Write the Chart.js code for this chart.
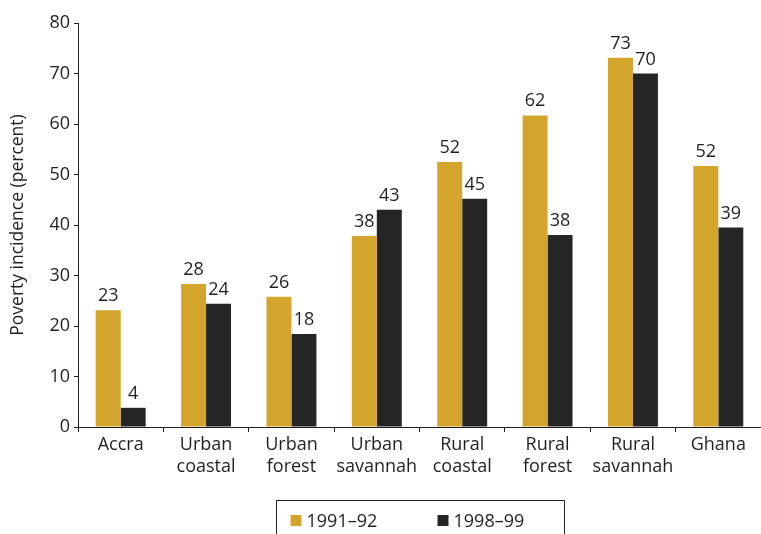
<!DOCTYPE html>
<html><head><meta charset="utf-8">
<script src="https://cdn.jsdelivr.net/npm/chart.js@4/dist/chart.umd.min.js"></script>
<style>html,body{margin:0;padding:0;background:#fff}#wrap{width:761px;height:534px}</style>
</head><body><div id="wrap"><canvas id="c" width="761" height="534"></canvas></div>
<script>
const categories = [["Accra"],["Urban","coastal"],["Urban","forest"],["Urban","savannah"],["Rural","coastal"],["Rural","forest"],["Rural","savannah"],["Ghana"]];
const series1991 = [23.1, 28.3, 25.8, 37.8, 52.5, 61.7, 73.1, 51.7];
const series1998 = [3.8, 24.4, 18.4, 43.0, 45.2, 38.0, 70.0, 39.5];
const labels1991 = ["23","28","26","38","52","62","73","52"];
const labels1998 = ["4","24","18","43","45","38","70","39"];
const seriesNames = ["1991–92", "1998–99"];
const yTicks = [0,10,20,30,40,50,60,70,80];

const FONT = "'Open Sans', sans-serif";
const FS = 18;
const INK = "#231F20";
const COLORS = ['#D4A52C', '#262526'];

const valueLabels = {
  id: 'valueLabels',
  afterDatasetsDraw(chart) {
    const ctx = chart.ctx;
    ctx.save();
    ctx.font = FS + "px " + FONT;
    ctx.fillStyle = INK;
    ctx.textAlign = 'center';
    ctx.textBaseline = 'alphabetic';
    const lbls = [labels1991, labels1998];
    chart.data.datasets.forEach((ds, i) => {
      chart.getDatasetMeta(i).data.forEach((bar, j) => {
        ctx.fillText(lbls[i][j], bar.x, bar.y - 9);
      });
    });
    ctx.restore();
  }
};

const boxedLegend = {
  id: 'boxedLegend',
  afterDraw(chart) {
    const ctx = chart.ctx;
    const ca = chart.chartArea;
    const cx = (ca.left + ca.right) / 2;
    const boxW = 288;
    const l = Math.round(cx - boxW / 2) + 0.5;
    const r = l + boxW;
    const t = 500.5;
    ctx.save();
    ctx.strokeStyle = INK;
    ctx.lineWidth = 1;
    ctx.beginPath();
    ctx.moveTo(l, chart.height + 5);
    ctx.lineTo(l, t);
    ctx.lineTo(r, t);
    ctx.lineTo(r, chart.height + 5);
    ctx.stroke();
    ctx.font = FS + "px " + FONT;
    ctx.textBaseline = 'alphabetic';
    ctx.textAlign = 'left';
    const itemX = [l + 14, l + 161];
    chart.data.datasets.forEach((ds, i) => {
      ctx.fillStyle = ds.backgroundColor;
      ctx.fillRect(itemX[i], 515, 11, 11);
      ctx.fillStyle = INK;
      ctx.fillText(ds.label, itemX[i] + 16, 526.5);
    });
    ctx.restore();
  }
};

new Chart(document.getElementById('c'), {
  type: 'bar',
  data: {
    labels: categories,
    datasets: [
      { label: seriesNames[0], data: series1991, backgroundColor: COLORS[0], borderWidth: 0 },
      { label: seriesNames[1], data: series1998, backgroundColor: COLORS[1], borderWidth: 0 }
    ]
  },
  options: {
    responsive: false,
    animation: false,
    devicePixelRatio: 1,
    layout: { padding: { top: 23, right: 0, left: 0, bottom: 57 } },
    categoryPercentage: 0.585,
    barPercentage: 1.0,
    plugins: {
      tooltip: { enabled: false },
      legend: { display: false }
    },
    scales: {
      x: {
        afterFit: s => { s.height = 50; },
        grid: { display: true, drawOnChartArea: false, drawTicks: true, tickLength: 5, color: INK, offset: true },
        border: { display: true, color: INK, width: 1 },
        ticks: { color: INK, font: { family: FONT, size: FS, lineHeight: 1.2 }, padding: 2, maxRotation: 0, autoSkip: false }
      },
      y: {
        min: 0, max: 80,
        afterBuildTicks: s => { s.ticks = yTicks.map(v => ({ value: v })); },
        afterFit: s => { s.width = 78; },
        grid: { display: true, drawOnChartArea: false, drawTicks: true, tickLength: 4, color: INK },
        border: { display: true, color: INK, width: 1 },
        ticks: { color: INK, font: { family: FONT, size: FS }, padding: 4 },
        title: { display: true, text: 'Poverty incidence (percent)', color: INK, font: { family: FONT, size: 17.5 }, padding: { top: 8, bottom: 2 } }
      }
    }
  },
  plugins: [valueLabels, boxedLegend]
});
</script>
</body></html>
